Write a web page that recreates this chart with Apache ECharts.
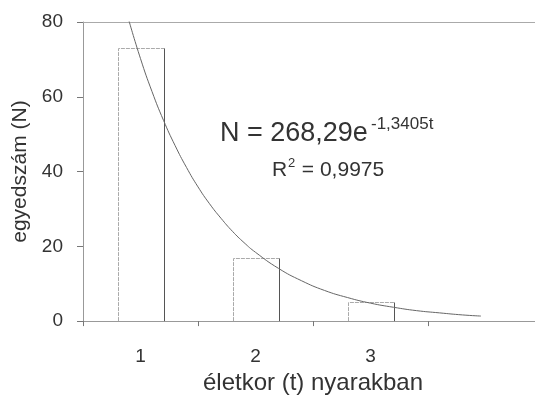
<!DOCTYPE html>
<html>
<head>
<meta charset="utf-8">
<script src="https://cdn.jsdelivr.net/npm/echarts@6/dist/echarts.min.js"></script>
<style>html,body{margin:0;padding:0;background:#fff;overflow:hidden}#c{width:550px;height:400px}</style>
</head>
<body>
<div id="c"></div>
<script>
// categories (age in summers); last slot is empty
var categories = ['1', '2', '3', ''];
// bar values (N)
var counts = [73, 17, 5];
// exponential trendline points [t, N]
var trendT = [0.9, 1.0, 1.1, 1.2, 1.3, 1.4, 1.5, 1.6, 1.7, 1.8, 1.9, 2.0, 2.2, 2.4, 2.6, 2.8, 3.0, 3.2, 3.4, 3.6, 3.8, 3.96];
var trendN = [80.3, 70.2, 61.4, 53.7, 47.0, 41.1, 35.9, 31.4, 27.5, 24.0, 21.0, 18.4, 14.1, 10.8, 8.2, 6.3, 4.8, 3.7, 2.8, 2.2, 1.65, 1.35];
var yTicks = [0, 20, 40, 60, 80];
var equation = 'N = 268,29e';
var exponent = '-1,3405t';
var rSquared = 'R';
var rSquaredRest = ' = 0,9975';

var trendData = trendT.map(function (t, i) { return [t, trendN[i]]; });
var barData = counts.map(function (v, i) { return [i, v]; });
var font = 'Liberation Sans, Arial, sans-serif';
var txt = '#333';
var chart = echarts.init(document.getElementById('c'));
chart.setOption({
  animation: false,
  grid: { left: 83, right: 7, top: 22, bottom: 78 },
  xAxis: [{
    type: 'category',
    data: categories,
    position: 'bottom',
    name: 'életkor (t) nyarakban',
    nameLocation: 'middle',
    nameGap: 35,
    nameTextStyle: { fontFamily: font, fontSize: 24, color: txt },
    axisLine: { lineStyle: { color: '#999', width: 1 } },
    axisTick: { show: true, length: 5, lineStyle: { color: '#777' } },
    axisLabel: { fontFamily: font, fontSize: 19, color: txt, margin: 26 },
    splitLine: { show: false }
  }, {
    type: 'value',
    position: 'top',
    min: 0.5,
    max: 4.5,
    axisLine: { show: true, onZero: false, lineStyle: { color: '#aaa', width: 1 } },
    axisTick: { show: false },
    axisLabel: { show: false },
    splitLine: { show: false }
  }],
  yAxis: {
    type: 'value',
    min: yTicks[0],
    max: yTicks[yTicks.length - 1],
    interval: 20,
    name: 'egyedszám (N)',
    nameLocation: 'middle',
    nameGap: 52,
    nameTextStyle: { fontFamily: font, fontSize: 21, color: txt },
    axisLine: { show: true, lineStyle: { color: '#999', width: 1 } },
    axisTick: { show: true, length: 6, lineStyle: { color: '#777' } },
    axisLabel: { fontFamily: font, fontSize: 19, color: txt, margin: 20 },
    splitLine: { show: false }
  },
  series: [{
    type: 'custom',
    xAxisIndex: 0,
    data: barData,
    renderItem: function (params, api) {
      var top = api.coord([api.value(0), api.value(1)]);
      var base = api.coord([api.value(0), 0]);
      var w = api.size([1, 0])[0] * 0.4;
      var x0 = Math.round(top[0] - w / 2) + 0.5, x1 = Math.round(top[0] + w / 2) + 0.5;
      var y0 = Math.round(top[1]) + 0.5, y1 = base[1];
      return {
        type: 'group',
        children: [
          { type: 'polyline', shape: { points: [[x0, y1], [x0, y0], [x1, y0]] },
            style: { stroke: '#aaa', lineWidth: 1, fill: null, lineDash: [4, 1] } },
          { type: 'line', shape: { x1: x1, y1: y0, x2: x1, y2: y1 },
            style: { stroke: '#555', lineWidth: 1 } }
        ]
      };
    }
  }, {
    type: 'line',
    xAxisIndex: 1,
    data: trendData,
    smooth: true,
    showSymbol: false,
    lineStyle: { color: '#666', width: 1 },
    clip: true
  }],
  graphic: [{
    type: 'text', left: 220, top: 120,
    style: { text: equation, font: '27px ' + font, fill: txt }
  }, {
    type: 'text', left: 371, top: 116,
    style: { text: exponent, font: '17px ' + font, fill: txt }
  }, {
    type: 'text', left: 272, top: 160,
    style: { text: rSquared, font: '21px ' + font, fill: txt }
  }, {
    type: 'text', left: 288, top: 157,
    style: { text: '2', font: '13px ' + font, fill: txt }
  }, {
    type: 'text', left: 296, top: 160,
    style: { text: rSquaredRest, font: '21px ' + font, fill: txt }
  }]
});
</script>
</body>
</html>
